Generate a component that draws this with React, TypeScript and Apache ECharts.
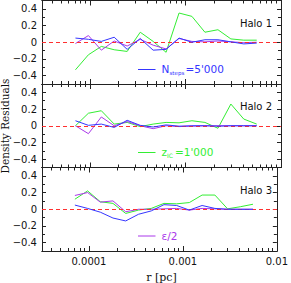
import React, { useEffect, useRef } from 'react';
import * as echarts from 'echarts';

// radii (pc) of the profile bins
const radii = [7.08e-5, 9.67e-5, 1.32e-4, 1.8e-4, 2.46e-4, 3.37e-4, 4.6e-4, 6.28e-4, 8.58e-4, 1.17e-3, 1.6e-3, 2.19e-3, 2.99e-3, 4.08e-3, 5.57e-3];

// Halo 1
const halo1Zic = [-0.33, -0.15, -0.05, -0.09, -0.11, 0.12, 0.01, -0.12, 0.35, 0.31, 0.12, 0.15, 0.04, 0.025, 0.025];
const halo1Nsteps = [0.05, 0.035, 0.01, 0.06, -0.085, 0.045, -0.095, -0.085, 0.05, 0.0, 0.03, 0.03, 0.005, -0.02, -0.01];
const halo1Eps = [-0.015, 0.08, -0.095, 0.015, -0.045, 0.035, -0.035, -0.08, 0.045, 0.01, 0.005, 0.015, 0.005, -0.005, 0.0];

// Halo 2
const halo2Zic = [0.0, 0.15, 0.18, 0.02, 0.04, -0.01, 0.02, 0.04, 0.035, 0.06, 0.04, -0.03, 0.26, 0.08, 0.02];
const halo2Nsteps = [0.06, 0.005, 0.02, -0.02, 0.065, 0.005, -0.015, 0.01, -0.005, 0.0, 0.0, -0.005, 0.0, 0.0, 0.0];
const halo2Eps = [0.0, -0.095, 0.105, 0.0, 0.05, 0.0, -0.035, 0.0, -0.01, -0.005, 0.0, 0.0, 0.0, 0.0, 0.0];

// Halo 3
const halo3Zic = [0.12, 0.22, 0.09, 0.07, -0.05, -0.01, 0.01, 0.07, 0.065, 0.08, 0.17, 0.17, 0.005, 0.03, 0.06];
const halo3Nsteps = [0.05, 0.01, -0.035, -0.105, -0.14, -0.06, -0.02, 0.055, 0.045, -0.01, 0.045, 0.01, 0.0, 0.0, 0.0];
const halo3Eps = [0.165, 0.2, 0.085, 0.1, -0.03, 0.0, 0.0, 0.005, 0.01, -0.01, 0.01, 0.005, 0.0, 0.0, 0.0];

const panelNames = ['Halo 1', 'Halo 2', 'Halo 3'];
const xMajorTicks = [0.0001, 0.001, 0.01];
const xMinorMultipliers = [2, 3, 4, 5, 6, 7, 8, 9];
const xDecades = [1e-5, 1e-4, 1e-3];
const yMajorTicks = [-0.4, -0.2, 0, 0.2, 0.4];
const yMinorTicks = [-0.3, -0.1, 0.1, 0.3];

const GREEN = '#33ee33';
const BLUE = '#3535ff';
const PURPLE = '#aa38ea';
const RED = '#ff3030';
const FRAME = '#222';

const X_MIN = -4.5;
const X_MAX = -2;
const LEFT = 42;
const RIGHT = 10;
const TOPS = [0.5, 84, 167.5];
const H = 83.5;

export default function App() {
  const ref = useRef<HTMLDivElement>(null);
  useEffect(() => {
    if (!ref.current) return;
    const chart = echarts.init(ref.current, undefined, { renderer: 'svg' });

    const lg = (v: number) => Math.log10(v);
    const majorX = xMajorTicks.map(lg);
    const minorX: number[] = [];
    xDecades.forEach((d) =>
      xMinorMultipliers.forEach((k) => {
        const v = lg(k * d);
        if (v > X_MIN && v < X_MAX) minorX.push(v);
      })
    );

    const axisLine = { show: true, onZero: false, lineStyle: { color: FRAME, width: 1 } };
    const tickFont = { fontSize: 10, fontFamily: 'DejaVu Sans', color: '#111' };

    const xAxes: any[] = [];
    const yAxes: any[] = [];
    const grids: any[] = [];
    const series: any[] = [];

    const panels = [
      [halo1Zic, halo1Nsteps, halo1Eps],
      [halo2Zic, halo2Nsteps, halo2Eps],
      [halo3Zic, halo3Nsteps, halo3Eps],
    ];

    panels.forEach((pd, g) => {
      grids.push({ left: LEFT, right: RIGHT, top: TOPS[g], height: H, containLabel: false });
      const mkX = (pos: string, ticks: number[], len: number, labels: boolean) => ({
        type: 'value',
        gridIndex: g,
        position: pos,
        min: X_MIN,
        max: X_MAX,
        axisLine,
        splitLine: { show: false },
        axisTick: { show: true, inside: true, length: len, customValues: ticks, lineStyle: { color: FRAME, width: 1 } },
        axisLabel: labels
          ? {
              show: true,
              customValues: majorX,
              margin: 5,
              ...tickFont,
              formatter: (v: number) => Math.pow(10, v).toFixed(Math.round(-v)),
            }
          : { show: false },
      });
      const mkY = (pos: string, ticks: number[], len: number, labels: boolean) => ({
        type: 'value',
        gridIndex: g,
        position: pos,
        min: -0.5,
        max: 0.5,
        axisLine,
        splitLine: { show: false },
        axisTick: { show: true, inside: true, length: len, customValues: ticks, lineStyle: { color: FRAME, width: 1 } },
        axisLabel: labels
          ? {
              show: true,
              customValues: yMajorTicks,
              margin: 5,
              ...tickFont,
              formatter: (v: number) => (Math.abs(v) < 1e-9 ? '0' : v.toFixed(1).replace('-', '\u2212')),
            }
          : { show: false },
      });
      const xBase = xAxes.length;
      xAxes.push(mkX('bottom', majorX, 5, g === 2));
      xAxes.push(mkX('bottom', minorX, 3, false));
      xAxes.push(mkX('top', majorX, 5, false));
      xAxes.push(mkX('top', minorX, 3, false));
      const yBase = yAxes.length;
      yAxes.push(mkY('left', yMajorTicks, 4, true));
      yAxes.push(mkY('left', yMinorTicks, 3, false));
      yAxes.push(mkY('right', yMajorTicks, 4, false));
      yAxes.push(mkY('right', yMinorTicks, 3, false));

      const colors = [GREEN, BLUE, PURPLE];
      const order = [0, 2, 1];
      order.forEach((si, n) => {
        series.push({
          type: 'line',
          xAxisIndex: xBase,
          yAxisIndex: yBase,
          data: radii.map((r, i) => [lg(r), pd[si][i]]),
          symbol: 'none',
          showSymbol: false,
          lineStyle: { color: colors[si], width: 1 },
          itemStyle: { color: colors[si] },
          z: 3 + n,
          silent: true,
          markLine:
            n === 0
              ? {
                  silent: true,
                  symbol: ['none', 'none'],
                  label: { show: false },
                  lineStyle: { color: RED, type: [4, 3], width: 1 },
                  data: [{ yAxis: 0 }],
                }
              : undefined,
        });
      });
    });

    const txt = (x: number, y: number, text: string, fill: string, fontSize = 10, align = 'left', font = 'DejaVu Sans', extra: any = {}) => ({
      type: 'text',
      x,
      y,
      silent: true,
      ...extra,
      style: {
        text,
        fill,
        fontSize,
        fontFamily: font,
        align,
        textAlign: align,
        verticalAlign: 'middle',
        textVerticalAlign: 'middle',
      },
    });

    const graphic: any[] = [];
    panelNames.forEach((name, g) => {
      graphic.push(txt(272, TOPS[g] + 22.5, name, '#111', 10, 'right'));
    });
    // legends
    const legendY = [69.5, 152.5, 236];
    const legendColors = [BLUE, GREEN, PURPLE];
    legendY.forEach((y, i) => {
      graphic.push({
        type: 'line',
        silent: true,
        shape: { x1: 138, y1: y, x2: 155.5, y2: y },
        style: { stroke: legendColors[i], lineWidth: 1 },
      });
    });
    graphic.push(txt(161.5, 69, 'N', BLUE, 10.5));
    graphic.push(txt(169.5, 72.5, 'steps', BLUE, 5.5));
    graphic.push(txt(185.5, 69, "=5'000", BLUE, 10.5));
    graphic.push(txt(161.5, 152, 'z', GREEN, 10.5));
    graphic.push(txt(167, 155, 'IC', GREEN, 6));
    graphic.push(txt(175, 152, "=1'000", GREEN, 10.5));
    graphic.push(txt(161.5, 235.5, '\u03b5/2', PURPLE, 10.5));
    // axis titles
    graphic.push(txt(161.5, 277.5, 'r [pc]', '#111', 11, 'center', 'DejaVu Serif'));
    graphic.push(txt(5, 126, 'Density Residuals', '#111', 10.5, 'center', 'DejaVu Serif', { rotation: Math.PI / 2 }));

    chart.setOption({
      animation: false,
      backgroundColor: '#fff',
      grid: grids,
      xAxis: xAxes,
      yAxis: yAxes,
      series,
      graphic,
    });
    return () => chart.dispose();
  }, []);

  return (
    <div
      ref={ref}
      style={{ position: 'fixed', left: 0, top: 0, width: 291, height: 283, background: '#fff' }}
    />
  );
}
